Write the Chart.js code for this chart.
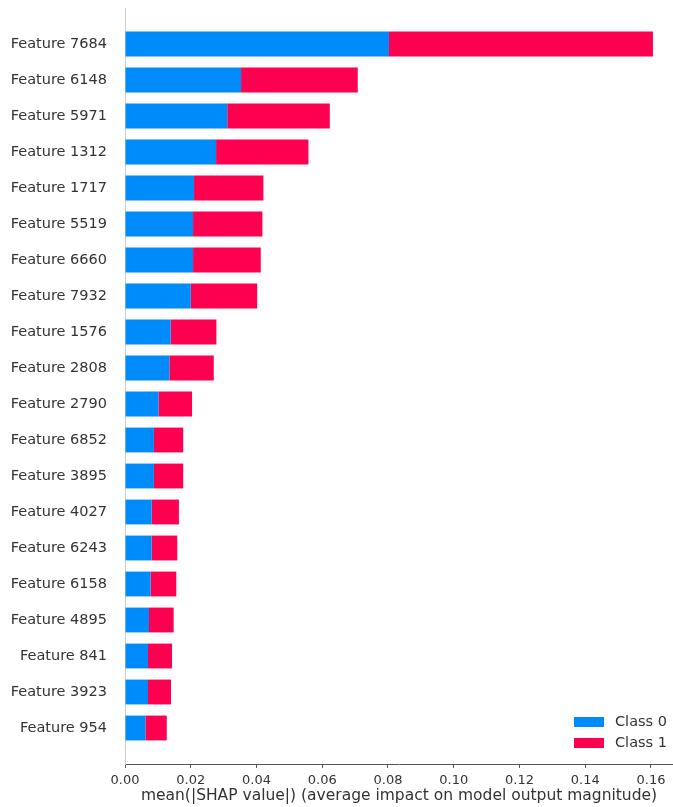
<!DOCTYPE html>
<html>
<head>
<meta charset="utf-8">
<script src="https://cdn.jsdelivr.net/npm/chart.js@4/dist/chart.umd.min.js"></script>
<style>
  html, body { margin: 0; padding: 0; background: #fff; }
  #wrap { width: 673px; height: 807px; position: relative; }
</style>
</head>
<body>
<div id="wrap"><canvas id="c" width="673" height="807"></canvas></div>
<script>
const features = ["Feature 7684","Feature 6148","Feature 5971","Feature 1312","Feature 1717",
  "Feature 5519","Feature 6660","Feature 7932","Feature 1576","Feature 2808",
  "Feature 2790","Feature 6852","Feature 3895","Feature 4027","Feature 6243",
  "Feature 6158","Feature 4895","Feature 841","Feature 3923","Feature 954"];
const class0 = [0.0803,0.0353,0.0311,0.0277,0.0210,0.0207,0.0207,0.0200,0.0139,0.0135,
  0.0102,0.0088,0.0088,0.0081,0.0081,0.0078,0.0073,0.0070,0.0070,0.0062];
const class1 = [0.0803,0.0355,0.0312,0.0281,0.0211,0.0211,0.0206,0.0202,0.0139,0.0135,
  0.0102,0.0089,0.0089,0.0083,0.0078,0.0078,0.0075,0.0073,0.0070,0.0065];
const seriesNames = ["Class 0","Class 1"];
const xTicks = [0.00,0.02,0.04,0.06,0.08,0.10,0.12,0.14,0.16];

const BLUE = '#008bfb', RED = '#ff0051';
const FONT = "'DejaVu Sans', sans-serif";

const legendPlugin = {
  id: 'cornerLegend',
  afterDraw(chart) {
    const ctx = chart.ctx;
    const a = chart.chartArea;
    ctx.save();
    chart.data.datasets.forEach((ds, i) => {
      const cy = a.bottom - 42 + i * 21;
      const bx = a.right - 99;
      ctx.fillStyle = ds.backgroundColor;
      ctx.fillRect(bx, cy - 5, 30, 10);
      ctx.fillStyle = '#333';
      ctx.font = "14.5px " + FONT;
      ctx.textBaseline = 'middle';
      ctx.textAlign = 'left';
      ctx.fillText(ds.label, bx + 41, cy);
    });
    ctx.restore();
  }
};

new Chart(document.getElementById('c'), {
  type: 'bar',
  data: {
    datasets: [
      { label: seriesNames[0], data: class0.map((v, i) => ({x: v, y: i})), backgroundColor: BLUE, borderWidth: 0 },
      { label: seriesNames[1], data: class1.map((v, i) => ({x: v, y: i})), backgroundColor: RED, borderWidth: 0 }
    ]
  },
  options: {
    indexAxis: 'y',
    responsive: false,
    animation: false,
    layout: { padding: { top: 8, right: 0, bottom: 0, left: 0 } },
    datasets: { bar: { categoryPercentage: 1, barPercentage: 0.69 } },
    plugins: { legend: { display: false }, tooltip: { enabled: false } },
    scales: {
      x: {
        type: 'linear',
        stacked: true,
        min: 0,
        max: 0.1667,
        afterBuildTicks(scale) { scale.ticks = xTicks.map(v => ({ value: v })); },
        afterFit(scale) { scale.height = 43; scale.paddingLeft = 0; scale.paddingRight = 0; },
        grid: { display: true, drawOnChartArea: false, drawTicks: true, tickLength: 4, tickColor: '#555', tickWidth: 1 },
        border: { display: true, color: '#555', width: 1 },
        ticks: {
          padding: 5,
          color: '#333',
          font: { family: FONT, size: 13 },
          callback: v => Number(v).toFixed(2),
          maxRotation: 0,
          autoSkip: false
        },
        title: {
          display: true,
          text: 'mean(|SHAP value|) (average impact on model output magnitude)',
          color: '#333',
          font: { family: FONT, size: 15.5 },
          padding: { top: 0, bottom: 2 }
        }
      },
      y: {
        type: 'linear',
        stacked: true,
        reverse: true,
        offset: false,
        min: -1,
        max: 20,
        afterBuildTicks(scale) { scale.ticks = features.map((f, i) => ({ value: i })); },
        afterFit(scale) { scale.width = 125; scale.paddingTop = 0; scale.paddingBottom = 0; },
        grid: { display: false },
        border: { display: true, color: '#cccccc', width: 1 },
        ticks: {
          padding: 10,
          color: '#333',
          font: { family: FONT, size: 14.5 },
          autoSkip: false,
          callback: v => features[v] ?? ''
        }
      }
    }
  },
  plugins: [legendPlugin]
});
</script>
</body>
</html>
